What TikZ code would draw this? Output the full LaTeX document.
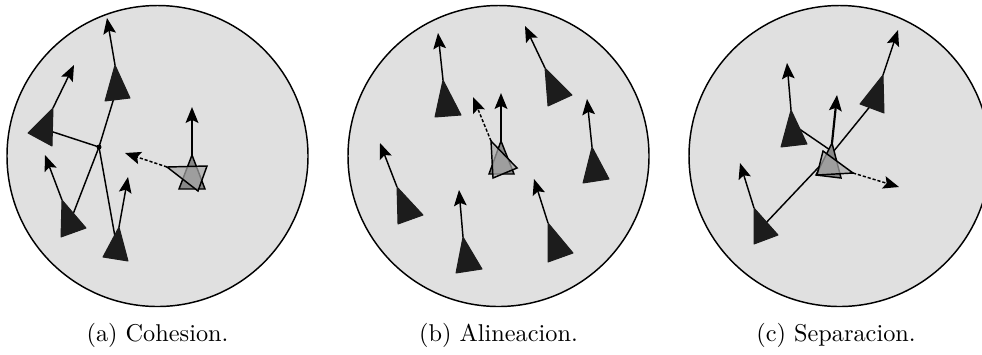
\documentclass[tikz,border=0pt]{standalone}
\usepackage{tikz}
\usetikzlibrary{arrows.meta}

\definecolor{fieldgray}{RGB}{224,224,224}
\definecolor{boidgray}{RGB}{28,28,28}
\definecolor{focalgray}{RGB}{136,136,136}
\definecolor{turngray}{RGB}{168,168,168}

% boid: style, apex, left, right, heading tip
\newcommand{\boid}[5][boid]{%
  \draw[#1] #2 -- #3 -- #4 -- cycle;
  \draw[heading] #2 -- #5;
}

\begin{document}
\begin{tikzpicture}[
    x=0.4115pt, y=-0.4115pt,
    every node/.style={font=\normalsize, inner sep=0pt},
    field/.style={draw=black, line width=0.6pt, fill=fieldgray},
    boid/.style={draw=boidgray, fill=boidgray, line width=0.4pt, line join=round},
    focal/.style={draw=black, fill=focalgray, line width=0.6pt},
    turned/.style={draw=black, fill=turngray, fill opacity=0.7, line width=0.6pt},
    heading/.style={-{Stealth[length=6.5pt, width=5.2pt, inset=1.2pt]}, line width=0.6pt},
    strong/.style={heading, line width=0.9pt},
    desired/.style={heading, dash pattern=on 1.3pt off 0.8pt},
    link/.style={line width=0.6pt}
]
    \useasboundingbox (0,0) rectangle (982,354);

    % campos de vision
    \draw[field] (157.5,156) circle [radius=150.5];
    \draw[field] (498.5,156) circle [radius=150.5];
    \draw[field] (839.5,156) circle [radius=150.5];

    %% (a) cohesion
    \coordinate (cm) at (99,147);
    \coordinate (a1) at (117,88);
    \coordinate (a2) at (44,129);
    \coordinate (a3) at (70,222);
    \coordinate (a4) at (117,248);
    \draw[link] (cm) -- (a1);
    \draw[link] (cm) -- (a2);
    \draw[link] (cm) -- (a3);
    \draw[link] (cm) -- (a4);
    \fill (cm) circle [radius=2.5];

    \boid{(115,65)}{(105,101)}{(130,98)}{(107,18)}
    \boid{(53,108)}{(28,133)}{(52,146)}{(74,65)}
    \boid{(62,200)}{(61,237)}{(86,228)}{(45,155)}
    \boid{(119,227)}{(103,257)}{(128,261)}{(128,177)}

    \draw[focal] (192,155) -- (179,189) -- (205,189) -- cycle;
    \draw[strong] (192,155) -- (192,107);
    \draw[turned] (167,167) -- (207,166) -- (198,191) -- cycle;
    \draw[desired] (167,167) -- (125,153);

    %% (b) alineacion
    \boid{(443,80)}{(435,117)}{(461,115)}{(438,33)}
    \boid{(545,68)}{(548,106)}{(572,95)}{(525,26)}
    \boid{(592,147)}{(583,183)}{(609,179)}{(587,99)}
    \boid{(397,187)}{(398,224)}{(423,215)}{(380,143)}
    \boid{(463,237)}{(456,273)}{(482,269)}{(459,190)}
    \boid{(548,223)}{(548,262)}{(573,253)}{(534,179)}

    \draw[focal] (501,141) -- (489,174) -- (514,174) -- cycle;
    \draw[strong] (501,141) -- (501,93);
    \draw[turned] (491,141) -- (493,178) -- (517,168) -- cycle;
    \draw[desired] (491,141) -- (473,97);

    %% (c) separacion
    \coordinate (sep) at (833,152);
    \coordinate (c1) at (795,126);
    \coordinate (c2) at (872,104);
    \coordinate (c3) at (763,226);
    \draw[link] (sep) -- (c1);
    \draw[link] (sep) -- (c2);
    \draw[link] (sep) -- (c3);

    \boid{(791,110)}{(781,147)}{(807,144)}{(787,63)}
    \boid{(883,75)}{(860,104)}{(884,113)}{(898,30)}
    \boid{(754,208)}{(754,244)}{(778,235)}{(740,163)}

    \draw[focal] (832,143) -- (816,175) -- (841,178) -- cycle;
    \draw[strong] (832,143) -- (837,95);
    \draw[turned] (853,173) -- (823,151) -- (817,175) -- cycle;
    \draw[desired] (853,173) -- (899,187);

    % leyendas
    \node[anchor=base] (capa) at (157.5,341) {(a) Cohesion.};
    \node[anchor=base] (capb) at (498.5,341) {(b) Alineacion.};
    \node[anchor=base] (capc) at (836,341) {(c) Separacion.};
\end{tikzpicture}
\end{document}
